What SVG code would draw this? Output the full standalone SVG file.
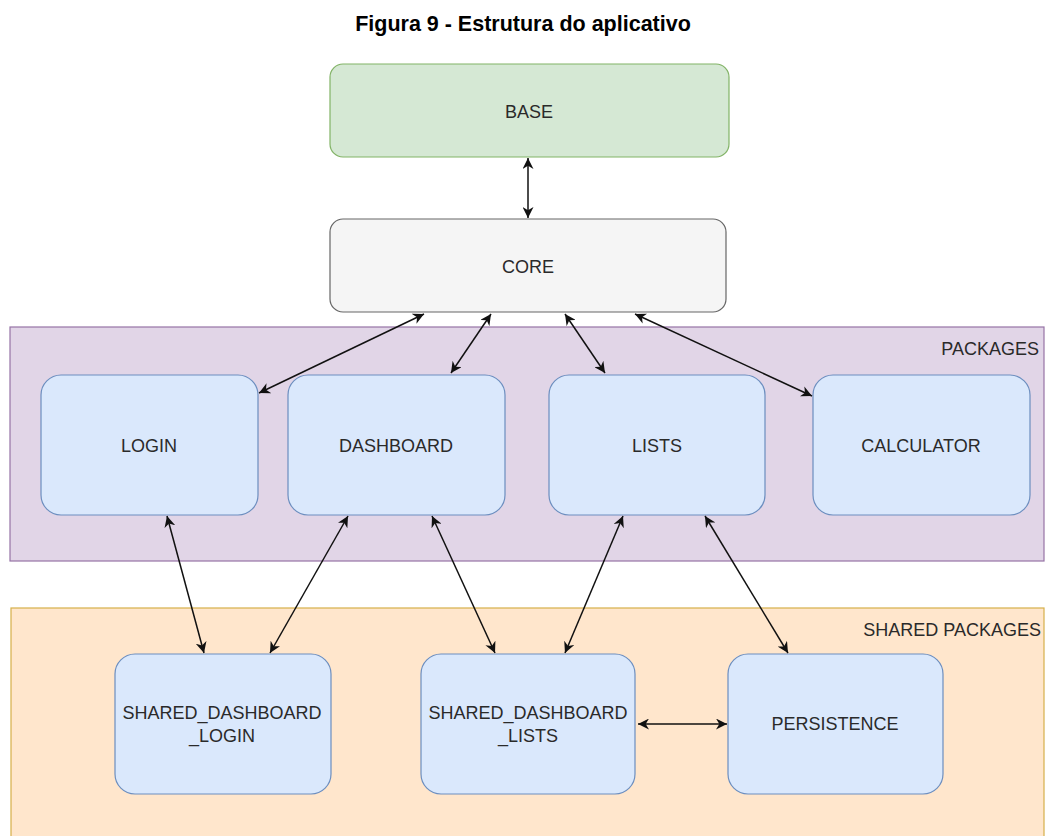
<svg xmlns="http://www.w3.org/2000/svg" width="1046" height="836" viewBox="0 0 1046 836">
  <style>
    text { font-family: "Liberation Sans", Arial, Helvetica, sans-serif; fill: #2a2a2a; }
    .title { font-size: 21.5px; font-weight: bold; text-anchor: middle; fill: #000; }
    .lbl { font-size: 18px; text-anchor: middle; }
    .tag { font-size: 18px; text-anchor: end; }
    .pkg { fill: #dae8fc; stroke: #6c8ebf; stroke-width: 1.2; }
    .conn line { stroke: #111; stroke-width: 1.5; marker-start: url(#arr); marker-end: url(#arr); }
  </style>
  <defs>
    <marker id="arr" viewBox="0 0 10 10" refX="10" refY="5" markerWidth="11" markerHeight="11" markerUnits="userSpaceOnUse" orient="auto-start-reverse">
      <path d="M0,0 L10,5 L0,10 L3,5 Z" fill="#111"/>
    </marker>
  </defs>
  <rect width="1046" height="836" fill="#ffffff"/>

  <text class="title" x="523" y="31">Figura 9 - Estrutura do aplicativo</text>

  <!-- containers -->
  <g id="packages">
    <rect x="10" y="327" width="1034" height="234" fill="#e1d5e7" stroke="#9673a6" stroke-width="1.2"/>
    <text class="tag" x="1039" y="355">PACKAGES</text>
  </g>
  <g id="shared-packages">
    <rect x="11" y="608" width="1033" height="240" fill="#ffe6cc" stroke="#d6b04a" stroke-width="1.2"/>
    <text class="tag" x="1041" y="636">SHARED PACKAGES</text>
  </g>

  <!-- top layer -->
  <g id="base">
    <rect x="330" y="64" width="399" height="93" rx="13" fill="#d5e8d4" stroke="#82b366" stroke-width="1.2"/>
    <text class="lbl" x="529" y="118">BASE</text>
  </g>
  <g id="core">
    <rect x="330" y="219" width="396" height="93" rx="13" fill="#f5f5f5" stroke="#666666" stroke-width="1.2"/>
    <text class="lbl" x="528" y="273">CORE</text>
  </g>

  <!-- packages -->
  <g id="login">
    <rect class="pkg" x="41" y="375" width="217" height="140" rx="20"/>
    <text class="lbl" x="149" y="452">LOGIN</text>
  </g>
  <g id="dashboard">
    <rect class="pkg" x="288" y="375" width="217" height="140" rx="20"/>
    <text class="lbl" x="396" y="452">DASHBOARD</text>
  </g>
  <g id="lists">
    <rect class="pkg" x="549" y="375" width="216" height="140" rx="20"/>
    <text class="lbl" x="657" y="452">LISTS</text>
  </g>
  <g id="calculator">
    <rect class="pkg" x="813" y="375" width="217" height="140" rx="20"/>
    <text class="lbl" x="921" y="452">CALCULATOR</text>
  </g>

  <!-- shared packages -->
  <g id="shared-dashboard-login">
    <rect class="pkg" x="115" y="654" width="216" height="140" rx="20"/>
    <text class="lbl" x="222" y="719">SHARED_DASHBOARD</text>
    <text class="lbl" x="222" y="742">_LOGIN</text>
  </g>
  <g id="shared-dashboard-lists">
    <rect class="pkg" x="421" y="654" width="214" height="140" rx="20"/>
    <text class="lbl" x="528" y="719">SHARED_DASHBOARD</text>
    <text class="lbl" x="528" y="742">_LISTS</text>
  </g>
  <g id="persistence">
    <rect class="pkg" x="728" y="654" width="215" height="140" rx="20"/>
    <text class="lbl" x="835" y="730">PERSISTENCE</text>
  </g>

  <!-- connectors -->
  <g class="conn" id="connectors">
    <line x1="528" y1="158" x2="528" y2="218"/>
    <line x1="424" y1="314" x2="259" y2="393"/>
    <line x1="491" y1="314" x2="451" y2="373"/>
    <line x1="565" y1="314" x2="605" y2="373"/>
    <line x1="635" y1="314" x2="812" y2="396"/>
    <line x1="167" y1="516" x2="204" y2="653"/>
    <line x1="348" y1="516" x2="270" y2="653"/>
    <line x1="432" y1="516" x2="495" y2="653"/>
    <line x1="623" y1="516" x2="565" y2="653"/>
    <line x1="705" y1="516" x2="788" y2="653"/>
    <line x1="638" y1="724" x2="727" y2="724"/>
  </g>
</svg>
